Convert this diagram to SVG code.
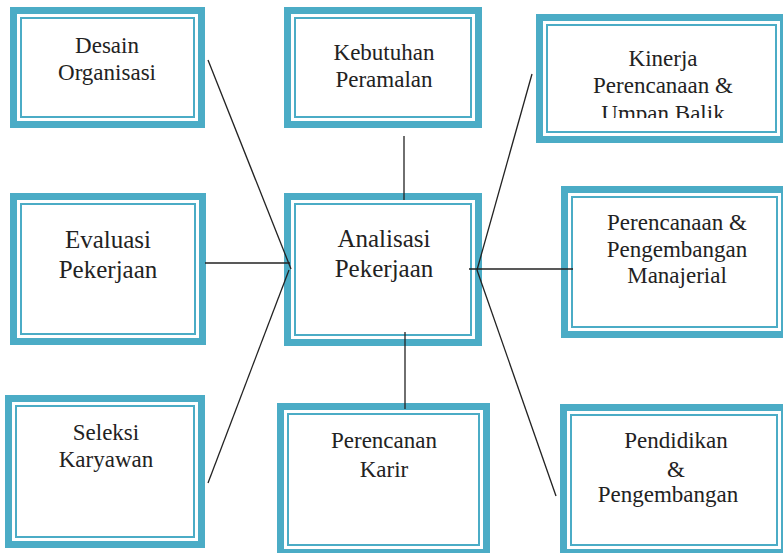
<svg xmlns="http://www.w3.org/2000/svg" width="783" height="553" viewBox="0 0 783 553">
<style>
.o{fill:#fff;stroke:#4BACC6;stroke-width:7}
.i{fill:none;stroke:#4BACC6;stroke-width:2}
.t{font-family:"Liberation Serif","Times New Roman",serif;font-size:23px;fill:#222;text-anchor:middle}
.b{font-size:25px}
.c{stroke:#222;stroke-width:1.3;fill:none}
</style>
<defs>
<clipPath id="clipK"><rect x="536" y="14" width="251" height="104"/></clipPath>
</defs>
<rect width="783" height="553" fill="#fff"/>
<g id="desain">
<rect class="o" x="13.5" y="10.5" width="188" height="114"/>
<rect class="i" x="21" y="18" width="173" height="99"/>
<text class="t" x="107" y="53">Desain</text>
<text class="t" x="107" y="80">Organisasi</text>
</g>
<g id="kebutuhan">
<rect class="o" x="287.5" y="10.5" width="191" height="114"/>
<rect class="i" x="295" y="18" width="176" height="99"/>
<text class="t" x="384" y="60">Kebutuhan</text>
<text class="t" x="384" y="87">Peramalan</text>
</g>
<g id="kinerja">
<rect class="o" x="539.5" y="17.5" width="244" height="122"/>
<rect class="i" x="547" y="25" width="229" height="107"/>
<g clip-path="url(#clipK)">
<text class="t" x="663" y="66">Kinerja</text>
<text class="t" x="663" y="93">Perencanaan &amp;</text>
<text class="t" x="663" y="121">Umpan Balik</text>
</g>
</g>
<g id="evaluasi">
<rect class="o" x="13.5" y="196.5" width="189" height="145"/>
<rect class="i" x="21" y="204" width="174" height="130"/>
<text class="t b" x="108" y="248">Evaluasi</text>
<text class="t b" x="108" y="278">Pekerjaan</text>
</g>
<g id="analisasi">
<rect class="o" x="287.5" y="196.5" width="191" height="146"/>
<rect class="i" x="295" y="204" width="176" height="131"/>
<text class="t b" x="384" y="247">Analisasi</text>
<text class="t b" x="384" y="277">Pekerjaan</text>
</g>
<g id="manajerial">
<rect class="o" x="564.5" y="189.5" width="220" height="145"/>
<rect class="i" x="572" y="197" width="205" height="130"/>
<text class="t" x="677" y="230">Perencanaan &amp;</text>
<text class="t" x="677" y="257">Pengembangan</text>
<text class="t" x="677" y="283">Manajerial</text>
</g>
<g id="seleksi">
<rect class="o" x="8.5" y="398.5" width="193" height="146"/>
<rect class="i" x="16" y="406" width="178" height="131"/>
<text class="t" x="106" y="440">Seleksi</text>
<text class="t" x="106" y="467">Karyawan</text>
</g>
<g id="karir">
<rect class="o" x="280.5" y="406.5" width="206" height="146"/>
<rect class="i" x="288" y="414" width="191" height="131"/>
<text class="t" x="384" y="448">Perencanan</text>
<text class="t" x="384" y="477">Karir</text>
</g>
<g id="pendidikan">
<rect class="o" x="563.5" y="407.5" width="221" height="145"/>
<rect class="i" x="571" y="415" width="206" height="130"/>
<text class="t" x="676" y="448">Pendidikan</text>
<text class="t" x="676" y="477">&amp;</text>
<text class="t" x="668" y="502">Pengembangan</text>
</g>
<g id="connectors">
<line class="c" x1="208" y1="60" x2="291" y2="269"/>
<line class="c" x1="205" y1="263" x2="290" y2="263"/>
<line class="c" x1="208" y1="483" x2="289" y2="270"/>
<line class="c" x1="404" y1="136" x2="404" y2="200"/>
<line class="c" x1="405" y1="332" x2="405" y2="409"/>
<line class="c" x1="469" y1="269" x2="573" y2="269"/>
<line class="c" x1="477" y1="270" x2="532" y2="74"/>
<line class="c" x1="477" y1="270" x2="556" y2="496"/>
</g>
</svg>
